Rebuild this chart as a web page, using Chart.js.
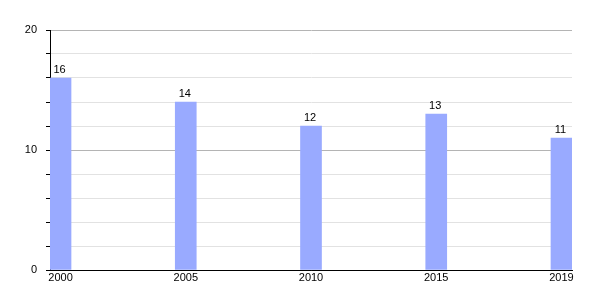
<!DOCTYPE html>
<html>
<head>
<meta charset="utf-8">
<title>Chart</title>
<script src="https://cdn.jsdelivr.net/npm/chart.js@4/dist/chart.umd.min.js"></script>
<style>
  html, body { margin: 0; padding: 0; background: #fff; }
  #chart { display: block; }
</style>
</head>
<body>
<canvas id="chart" width="600" height="300"></canvas>
<script>
// Chart data
const years = ['2000', '2005', '2010', '2015', '2019'];
const values = [16, 14, 12, 13, 11];
const yTickLabels = [0, 10, 20];

const barColor = '#99aaff';
const fontFamily = '"Liberation Sans", Arial, sans-serif';

// draws the value above each bar
const valueLabels = {
    id: 'valueLabels',
    afterDatasetsDraw(chart) {
        const ctx = chart.ctx;
        const meta = chart.getDatasetMeta(0);
        ctx.save();
        ctx.font = '11px ' + fontFamily;
        ctx.fillStyle = '#000';
        ctx.textAlign = 'center';
        ctx.textBaseline = 'bottom';
        meta.data.forEach((bar, i) => {
            ctx.fillText(String(values[i]), bar.x - 1, bar.y - 3);
        });
        ctx.restore();
    }
};

const halfBar = 10.5 / 125;

new Chart(document.getElementById('chart').getContext('2d'), {
    type: 'bar',
    data: {
        datasets: [{
            data: values.map((v, i) => ({ x: i, y: v })),
            backgroundColor: barColor,
            borderWidth: 0,
            barThickness: 21
        }]
    },
    options: {
        responsive: false,
        animation: false,
        layout: { padding: { top: 30, right: 28, left: 0, bottom: 0 } },
        plugins: {
            legend: { display: false },
            tooltip: { enabled: false }
        },
        scales: {
            x: {
                type: 'linear',
                offset: false,
                min: -halfBar,
                max: years.length - 1 + halfBar,
                afterBuildTicks: (scale) => {
                    scale.ticks = years.map((y, i) => ({ value: i }));
                },
                afterFit: (scale) => { scale.height = 30; },
                ticks: {
                    callback: (v) => years[v],
                    color: '#000',
                    font: { family: fontFamily, size: 11 },
                    padding: 1,
                    maxRotation: 0,
                    autoSkip: false
                },
                grid: { display: false, drawTicks: false },
                border: { display: true, color: '#000', width: 1 }
            },
            y: {
                min: 0,
                max: 20,
                afterFit: (scale) => { scale.width = 50; },
                ticks: {
                    stepSize: 2,
                    callback: (v) => yTickLabels.includes(v) ? String(v) : '',
                    color: '#000',
                    font: { family: fontFamily, size: 11 },
                    padding: 9
                },
                grid: {
                    color: (c) => {
                        const v = c.tick.value;
                        if (v === 0) return '#000';
                        return yTickLabels.includes(v) ? '#b4b4b4' : '#e2e2e2';
                    },
                    tickColor: '#000',
                    tickLength: 4,
                    lineWidth: 1
                },
                border: { display: true, color: '#000', width: 1 }
            }
        }
    },
    plugins: [valueLabels]
});
</script>
</body>
</html>
